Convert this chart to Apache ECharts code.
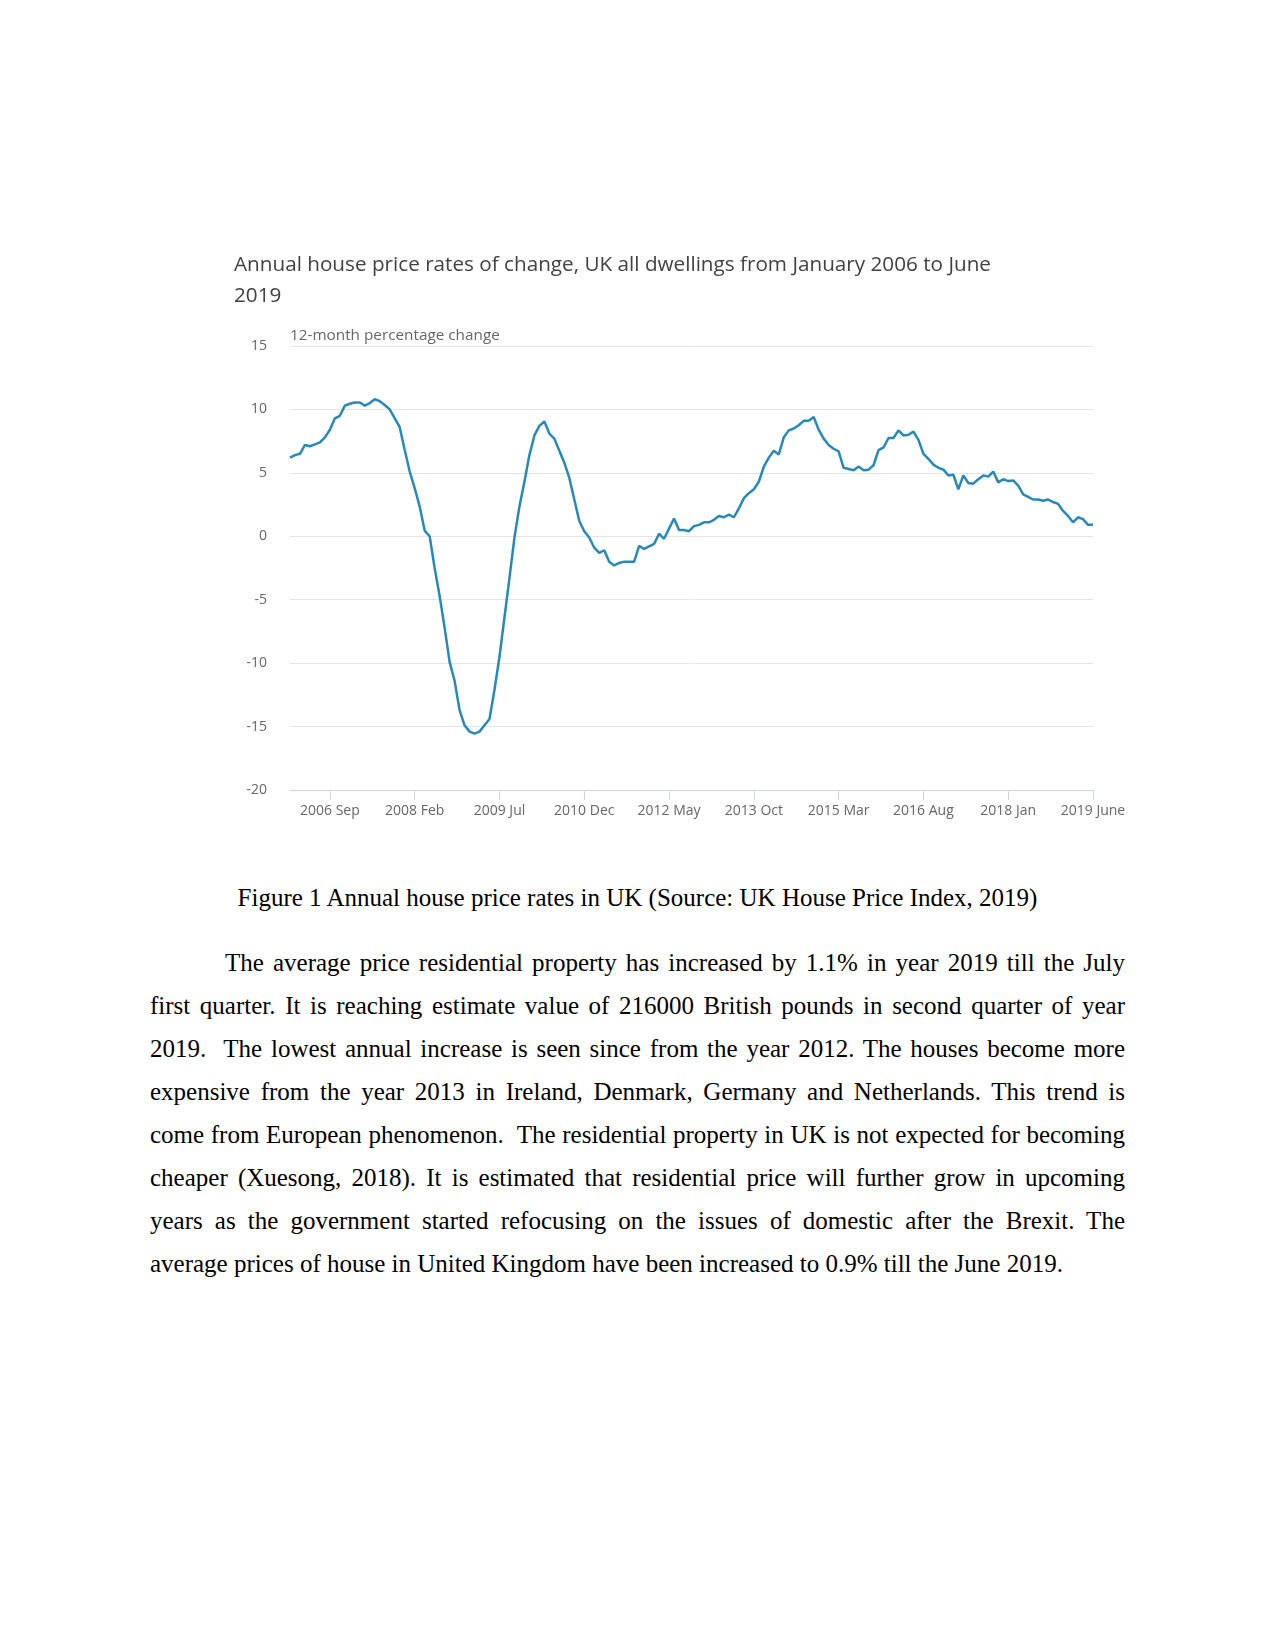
<!DOCTYPE html>
<html>
<head>
<meta charset="utf-8">
<script src="https://cdn.jsdelivr.net/npm/echarts@6/dist/echarts.min.js"></script>
<style>
  html, body { margin: 0; padding: 0; background: #fff; }
  body { width: 1275px; height: 1650px; position: relative; overflow: hidden; }
  #chart { position: absolute; left: 0; top: 0; width: 1275px; height: 860px; }
  .serif { font-family: "Liberation Serif", "Times New Roman", serif; font-size: 25px; color: #000; }
  #caption { position: absolute; left: 0; width: 1275px; top: 876px; line-height: 43px; text-align: center; }
  #para { position: absolute; left: 150px; width: 975px; top: 941px; line-height: 43px; }
  #para div { text-align: justify; text-align-last: justify; }
  #para div.last { text-align: left; text-align-last: left; }
  #para div.indent { text-indent: 75px; }
</style>
</head>
<body>
<div id="chart"></div>
<div id="caption" class="serif">Figure 1 Annual house price rates in UK (Source: UK House Price Index, 2019)</div>
<div id="para" class="serif">
  <div class="indent">The average price residential property has increased by 1.1% in year 2019 till the July</div>
  <div>first quarter. It is reaching estimate value of 216000 British pounds in second quarter of year</div>
  <div>2019.&nbsp; The lowest annual increase is seen since from the year 2012. The houses become more</div>
  <div>expensive from the year 2013 in Ireland, Denmark, Germany and Netherlands. This trend is</div>
  <div>come from European phenomenon.&nbsp; The residential property in UK is not expected for becoming</div>
  <div>cheaper (Xuesong, 2018). It is estimated that residential price will further grow in upcoming</div>
  <div>years as the government started refocusing on the issues of domestic after the Brexit. The</div>
  <div class="last">average prices of house in United Kingdom have been increased to 0.9% till the June 2019.</div>
</div>
<script>
// ---- data ----
const startYear = 2006;
const monthNames = ['Jan','Feb','Mar','Apr','May','Jun','Jul','Aug','Sep','Oct','Nov','Dec'];
const changeValues = [
  6.2, 6.4, 6.5, 7.2, 7.1, 7.25, 7.4, 7.8, 8.4, 9.3,
  9.5, 10.3, 10.45, 10.55, 10.55, 10.3, 10.5, 10.8, 10.65, 10.35,
  10.0, 9.3, 8.6, 6.8, 5.1, 3.8, 2.35, 0.45, 0.0, -2.5,
  -4.7, -7.2, -9.9, -11.4, -13.7, -14.9, -15.4, -15.55, -15.4, -14.9,
  -14.4, -12.1, -9.5, -6.4, -3.3, -0.1, 2.35, 4.3, 6.4, 7.95,
  8.7, 9.05, 8.1, 7.7, 6.75, 5.8, 4.6, 2.9, 1.2, 0.4,
  -0.1, -0.9, -1.3, -1.1, -2.0, -2.3, -2.1, -2.0, -2.0, -2.0,
  -0.75, -1.0, -0.8, -0.6, 0.2, -0.2, 0.6, 1.4, 0.5, 0.5,
  0.4, 0.8, 0.9, 1.1, 1.1, 1.3, 1.6, 1.5, 1.7, 1.5,
  2.2, 3.0, 3.4, 3.7, 4.3, 5.5, 6.2, 6.75, 6.45, 7.8,
  8.35, 8.5, 8.75, 9.1, 9.1, 9.4, 8.4, 7.7, 7.2, 6.9,
  6.7, 5.4, 5.3, 5.2, 5.5, 5.2, 5.25, 5.6, 6.8, 7.0,
  7.75, 7.75, 8.35, 7.95, 8.0, 8.25, 7.6, 6.5, 6.1, 5.65,
  5.4, 5.25, 4.8, 4.85, 3.7, 4.8, 4.2, 4.15, 4.5, 4.8,
  4.7, 5.1, 4.25, 4.5, 4.35, 4.4, 4.0, 3.3, 3.1, 2.9,
  2.9, 2.8, 2.9, 2.7, 2.55, 2.0, 1.6, 1.1, 1.5, 1.35,
  0.9, 0.9
];
const categories = changeValues.map((_, i) =>
  (startYear + Math.floor(i / 12)) + ' ' + monthNames[i % 12]);
const tickLabels = ['2006 Sep','2008 Feb','2009 Jul','2010 Dec','2012 May','2013 Oct','2015 Mar','2016 Aug','2018 Jan','2019 June'];
const firstTick = 8, tickStep = 17;

const isTick = (idx) => idx >= firstTick && (idx - firstTick) % tickStep === 0;

const chart = echarts.init(document.getElementById('chart'), null, { renderer: 'canvas' });
chart.setOption({
  backgroundColor: '#fff',
  animation: false,
  title: [
    {
      text: 'Annual house price rates of change, UK all dwellings from January 2006 to June\n2019',
      left: 234, top: 250, padding: 0,
      textStyle: { fontFamily: 'Open Sans', fontSize: 20.7, fontWeight: 'normal', color: '#424242', lineHeight: 31 }
    },
    {
      text: '12-month percentage change',
      left: 290, top: 328, padding: 0,
      textStyle: { fontFamily: 'Open Sans', fontSize: 15.3, fontWeight: 'normal', color: '#666666' }
    }
  ],
  grid: { left: 290, top: 346, width: 803, height: 444, containLabel: false },
  xAxis: {
    type: 'category',
    data: categories,
    boundaryGap: false,
    axisLine: { onZero: false, lineStyle: { color: '#ccd6eb', width: 1 } },
    axisTick: { show: true, length: 10, interval: (idx) => isTick(idx), lineStyle: { color: '#ccd6eb' } },
    axisLabel: {
      interval: (idx) => isTick(idx),
      formatter: (val, idx) => tickLabels[(idx - firstTick) / tickStep],
      fontFamily: 'Open Sans', fontSize: 14, color: '#666666', margin: 14
    },
    splitLine: { show: false }
  },
  yAxis: {
    type: 'value',
    min: -20, max: 15, interval: 5,
    axisLine: { show: false },
    axisTick: { show: false },
    axisLabel: { fontFamily: 'Open Sans', fontSize: 14, color: '#666666', margin: 23 },
    splitLine: { lineStyle: { color: '#e6e6e6', width: 1 } }
  },
  series: [{
    type: 'line',
    data: changeValues,
    showSymbol: false,
    smooth: false,
    lineStyle: { color: '#2889b8', width: 2.5 },
    itemStyle: { color: '#2889b8' }
  }]
});
</script>
</body>
</html>
